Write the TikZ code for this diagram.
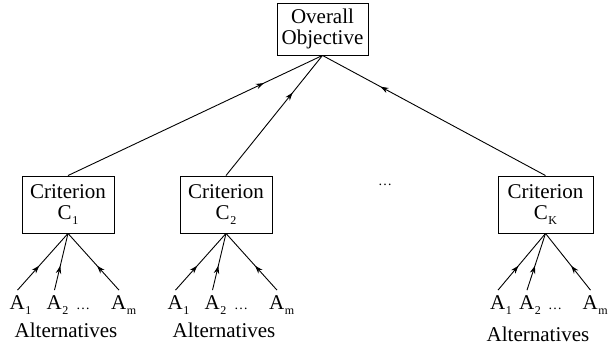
\documentclass[tikz,border=0pt]{standalone}
\usepackage{fontspec}
\setmainfont{Liberation Serif}
\usetikzlibrary{arrows.meta,decorations.markings}
\newcommand\lowsub[1]{\kern0.5pt\rlap{\raisebox{-5pt}{\fontsize{12}{12}\selectfont #1}}}
\newcommand\boxsub[1]{\kern0.5pt\raisebox{-5pt}{\fontsize{12}{12}\selectfont #1}}
\newcommand\smalldots{{\fontsize{14}{14}\selectfont\dots}}
\begin{document}
\begin{tikzpicture}[x=1pt,y=-1pt,
  box/.style={draw,line width=0.9pt,minimum width=92pt,minimum height=57pt,inner sep=0pt,align=center,font=\fontsize{21}{22}\selectfont},
  lbl/.style={inner sep=0pt,outer ysep=6pt,anchor=base,font=\fontsize{21}{22}\selectfont},
  txt/.style={inner sep=0pt,anchor=base,font=\fontsize{21}{22}\selectfont},
  conn/.style={line width=0.9pt,postaction={decorate},decoration={markings,mark=at position #1 with {\arrow{Stealth[length=8pt,width=5.5pt]}}}},
  conn/.default=0.5]
\useasboundingbox (0,0) rectangle (608,347);
% top
\node[box,minimum width=91pt,minimum height=52pt] (top) at (322.5,29) {Overall\\[-1pt]Objective};
% criteria
\node[box] (c1) at (68,204.5) {Criterion\\[-1pt]C\boxsub{1}};
\node[box] (c2) at (226,204.5) {Criterion\\[-1pt]C\boxsub{2}};
\node[box,minimum width=95pt] (ck) at (545.5,204.5) {Criterion\\[-1pt]C\boxsub{K}};
\node[txt] (mid) at (385,186) {\smalldots};
% top connectors
\draw[conn=0.77] (c1.north) -- (top.south);
\draw[conn=0.69] (c2.north) -- (top.south);
\draw[conn=0.74] (ck.north) -- (top.south);
% group 1
\node[lbl] (a11) at (17.5,310) {A\lowsub{1}};
\node[lbl] (a12) at (54.5,310) {A\lowsub{2}};
\node[txt] (d1) at (83,310) {\smalldots};
\node[lbl] (a1m) at (119,310) {A\lowsub{m}};
\node[txt] (alt1) at (66,338) {Alternatives};
% group 2
\node[lbl] (a21) at (175.5,310) {A\lowsub{1}};
\node[lbl] (a22) at (212.5,310) {A\lowsub{2}};
\node[txt] (d2) at (241,310) {\smalldots};
\node[lbl] (a2m) at (277,310) {A\lowsub{m}};
\node[txt] (alt2) at (224,338) {Alternatives};
% group K
\node[lbl] (ak1) at (498,310) {A\lowsub{1}};
\node[lbl] (ak2) at (527,310) {A\lowsub{2}};
\node[txt] (dk) at (555,310) {\smalldots};
\node[lbl] (akm) at (590.5,310) {A\lowsub{m}};
\node[txt] (altk) at (538,342) {Alternatives};
% bottom connectors
\foreach \g in {1,2,k}{
  \draw[conn=0.43] (a\g1.north) -- (c\g.south);
  \draw[conn=0.43] (a\g2.north) -- (c\g.south);
  \draw[conn=0.43] (a\g m.north) -- (c\g.south);
}
\end{tikzpicture}
\end{document}
